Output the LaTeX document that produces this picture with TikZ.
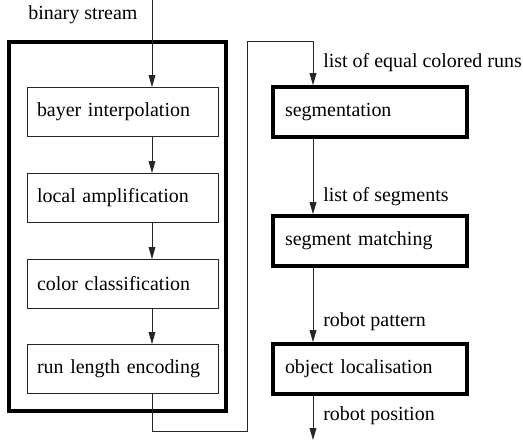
\documentclass[tikz,border=0pt]{standalone}
\usepackage{fontspec}
\setmainfont{Liberation Serif}
\usetikzlibrary{arrows.meta,calc,positioning}

\begin{document}
\begin{tikzpicture}[x=1cm,y=1cm,font=\fontsize{14.2}{17}\selectfont]
  \def\lx{3.0625}
  \def\rx{9.25}
  \tikzset{stage/.style={draw=black!85,line width=0.7pt,minimum width=4.775cm,minimum height=1.225cm,
      text width=4.275cm,align=left,inner xsep=0.25cm,inner ysep=0pt}}
  \tikzset{mainstage/.style={draw=black,line width=2.6pt,minimum width=4.85cm,minimum height=1.25cm,
      text width=4.25cm,align=left,inner xsep=0.3cm,inner ysep=0pt}}
  \tikzset{flow/.style={draw=black!85,line width=0.6pt,-{Triangle[length=0.3cm,width=0.17cm]}}}
  \tikzset{lbl/.style={anchor=west,inner sep=0pt}}

  \useasboundingbox (0,0) rectangle (13.075,11.075);

  % camera side (inside the frame)
  \node[draw,line width=0.1cm,minimum width=5.4125cm,minimum height=9.225cm,inner sep=0pt] (frame) at (2.94,5.4125) {};
  \node[stage] (bayer) at (\lx,8.275) {bayer interpolation};
  \node[stage] (amp)   at (\lx,6.125) {local amplification};
  \node[stage] (color) at (\lx,3.975) {color classification};
  \node[stage] (rle)   at (\lx,1.85)  {run length encoding};

  % host side
  \node[mainstage] (seg)   at (\rx,8.275) {segmentation};
  \node[mainstage] (match) at (\rx,5.05)  {segment matching};
  \node[mainstage] (loc)   at (\rx,1.85)  {object localisation};

  \coordinate (in)   at (3.8,11.075);
  \coordinate (low)  at (3.8,0.3);
  \coordinate (turn) at (6.175,10.05);
  \coordinate (out)  at (7.825,0.075);

  \draw[flow] (in) -- (bayer.north -| in);
  \draw[flow] (bayer.south -| in) -- (amp.north -| in);
  \draw[flow] (amp.south -| in) -- (color.north -| in);
  \draw[flow] (color.south -| in) -- (rle.north -| in);
  \draw[flow] (rle.south -| in) -- (low) -| (turn) -| (seg.north -| out);
  \draw[flow] (seg.south -| out) -- (match.north -| out);
  \draw[flow] (match.south -| out) -- (loc.north -| out);
  \draw[flow] (loc.south -| out) -- (out);

  % data passed along the arrows
  \node[lbl] (tbin)  at (0.7,10.7)    {binary stream};
  \node[lbl] (truns) at (8.075,9.5)   {list of equal colored runs};
  \node[lbl] (tsegs) at (8.075,6.15)  {list of segments};
  \node[lbl] (tpat)  at (8.075,3.025) {robot pattern};
  \node[lbl] (tpos)  at (8.075,0.675) {robot position};
\end{tikzpicture}
\end{document}
